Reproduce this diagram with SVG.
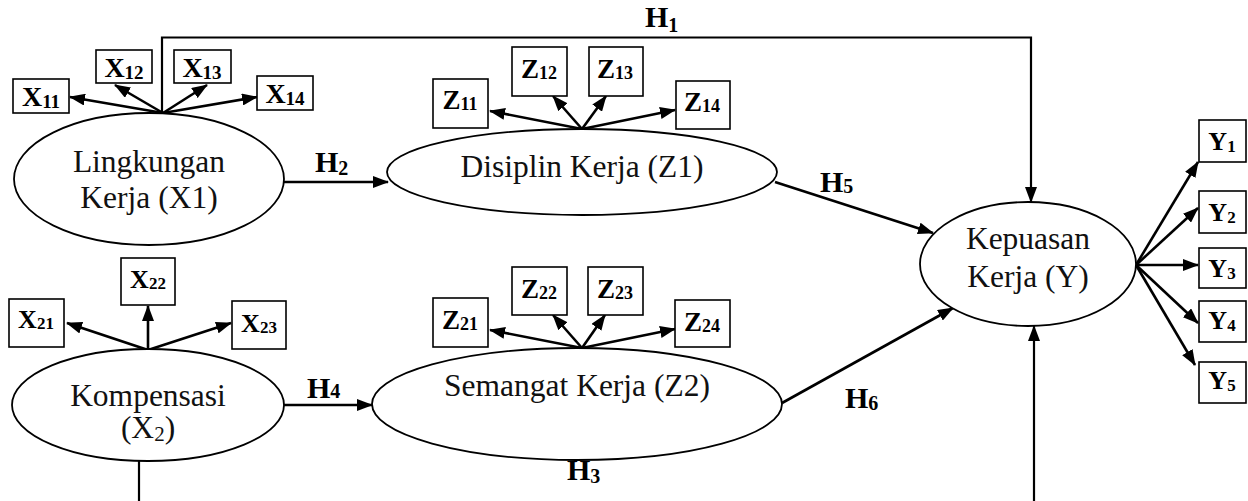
<svg xmlns="http://www.w3.org/2000/svg" width="1248" height="501" viewBox="0 0 1248 501">
<defs>
<marker id="ah" markerUnits="userSpaceOnUse" markerWidth="16" markerHeight="12" refX="15" refY="6" orient="auto">
<path d="M0,0 L16,6 L0,12 Z" fill="#000"/>
</marker>
<style>
.ell{fill:#fff;stroke:#000;stroke-width:1.8}
.box{fill:#fff;stroke:#000;stroke-width:1.6}
.lt{font-family:"Liberation Serif",serif;font-size:31.5px;text-anchor:middle;fill:#111}
.ind{font-family:"Liberation Serif",serif;font-weight:bold;text-anchor:middle;fill:#000}
.hl{font-family:"Liberation Serif",serif;font-weight:bold;font-size:30px;fill:#000}
.c{fill:none;stroke:#000;stroke-width:2.6}
.c2{fill:none;stroke:#000;stroke-width:2.2}
</style>
</defs>
<rect width="1248" height="501" fill="#fff"/>

<g id="connectors">
<path class="c2" d="M162,113 V37.5 H1031 V202" marker-end="url(#ah)"/>
<line class="c" x1="163" y1="113" x2="70" y2="97" marker-end="url(#ah)"/>
<line class="c" x1="163" y1="113" x2="115" y2="85" marker-end="url(#ah)"/>
<line class="c" x1="163" y1="113" x2="207" y2="85" marker-end="url(#ah)"/>
<line class="c" x1="163" y1="113" x2="257" y2="97" marker-end="url(#ah)"/>
<line class="c" x1="284" y1="182" x2="388" y2="182" marker-end="url(#ah)"/>
<line class="c" x1="582" y1="129" x2="490" y2="111" marker-end="url(#ah)"/>
<line class="c" x1="582" y1="129" x2="553" y2="96" marker-end="url(#ah)"/>
<line class="c" x1="582" y1="129" x2="606" y2="96" marker-end="url(#ah)"/>
<line class="c" x1="582" y1="129" x2="675" y2="110" marker-end="url(#ah)"/>
<line class="c" x1="775" y1="182" x2="933" y2="233" marker-end="url(#ah)"/>
<line class="c" x1="148" y1="350" x2="67" y2="323" marker-end="url(#ah)"/>
<line class="c" x1="148" y1="350" x2="148" y2="306" marker-end="url(#ah)"/>
<line class="c" x1="148" y1="350" x2="231" y2="323" marker-end="url(#ah)"/>
<line class="c" x1="284" y1="405" x2="372" y2="405" marker-end="url(#ah)"/>
<line class="c" x1="582" y1="348" x2="490" y2="330" marker-end="url(#ah)"/>
<line class="c" x1="582" y1="348" x2="553" y2="315" marker-end="url(#ah)"/>
<line class="c" x1="582" y1="348" x2="605" y2="315" marker-end="url(#ah)"/>
<line class="c" x1="582" y1="348" x2="675" y2="329" marker-end="url(#ah)"/>
<line class="c" x1="782" y1="403" x2="953" y2="308" marker-end="url(#ah)"/>
<line class="c2" x1="139" y1="461" x2="139" y2="501"/>
<line class="c2" x1="1034" y1="501" x2="1034" y2="326" marker-end="url(#ah)"/>
<line class="c" x1="1136" y1="265" x2="1198" y2="162" marker-end="url(#ah)"/>
<line class="c" x1="1136" y1="265" x2="1198" y2="208" marker-end="url(#ah)"/>
<line class="c" x1="1136" y1="265" x2="1198" y2="265" marker-end="url(#ah)"/>
<line class="c" x1="1136" y1="265" x2="1198" y2="323" marker-end="url(#ah)"/>
<line class="c" x1="1136" y1="265" x2="1195" y2="365" marker-end="url(#ah)"/>
<text class="hl" x="645" y="27">H<tspan font-size="20" dy="5">1</tspan></text>
<text class="hl" x="315" y="172">H<tspan font-size="20" dy="3">2</tspan></text>
<text class="hl" x="567" y="480">H<tspan font-size="20" dy="3">3</tspan></text>
<text class="hl" x="307" y="398">H<tspan font-size="20" dy="0">4</tspan></text>
<text class="hl" x="820" y="192">H<tspan font-size="20" dy="1">5</tspan></text>
<text class="hl" x="845" y="408">H<tspan font-size="20" dy="2">6</tspan></text>
</g>

<g id="X1">
<ellipse class="ell" cx="149" cy="179" rx="135" ry="66"/>
<text class="lt" x="149" y="172">Lingkungan</text>
<text class="lt" x="149" y="208">Kerja (X1)</text>
</g>
<g id="X11"><rect class="box" x="13" y="79" width="56" height="34"/><text class="ind" x="41" y="106" font-size="28">X<tspan font-size="19" dy="2">11</tspan></text></g>
<g id="X12"><rect class="box" x="96" y="50" width="56" height="33"/><text class="ind" x="124" y="77" font-size="28">X<tspan font-size="19" dy="2">12</tspan></text></g>
<g id="X13"><rect class="box" x="174" y="50" width="57" height="33"/><text class="ind" x="202" y="77" font-size="28">X<tspan font-size="19" dy="2">13</tspan></text></g>
<g id="X14"><rect class="box" x="257" y="76" width="56" height="34"/><text class="ind" x="285" y="103" font-size="28">X<tspan font-size="19" dy="2">14</tspan></text></g>

<g id="Z1">
<ellipse class="ell" cx="582" cy="172" rx="195" ry="43"/>
<text class="lt" x="582" y="177">Disiplin Kerja (Z1)</text>
</g>
<g id="Z11"><rect class="box" x="433" y="79" width="55" height="49"/><text class="ind" x="460" y="109" font-size="27">Z<tspan font-size="18" dy="1">11</tspan></text></g>
<g id="Z12"><rect class="box" x="512" y="47" width="55" height="49"/><text class="ind" x="539" y="78" font-size="27">Z<tspan font-size="18" dy="1">12</tspan></text></g>
<g id="Z13"><rect class="box" x="589" y="47" width="54" height="49"/><text class="ind" x="615" y="78" font-size="27">Z<tspan font-size="18" dy="1">13</tspan></text></g>
<g id="Z14"><rect class="box" x="676" y="81" width="54" height="48"/><text class="ind" x="702" y="111" font-size="27">Z<tspan font-size="18" dy="1">14</tspan></text></g>

<g id="Y">
<ellipse class="ell" cx="1028" cy="264" rx="108" ry="62"/>
<text class="lt" x="1028" y="249">Kepuasan</text>
<text class="lt" x="1028" y="287">Kerja (Y)</text>
</g>
<g id="Y1"><rect class="box" x="1199" y="120" width="47" height="42"/><text class="ind" x="1222" y="150" font-size="26">Y<tspan font-size="17" dy="2">1</tspan></text></g>
<g id="Y2"><rect class="box" x="1199" y="191" width="47" height="42"/><text class="ind" x="1222" y="221" font-size="26">Y<tspan font-size="17" dy="2">2</tspan></text></g>
<g id="Y3"><rect class="box" x="1199" y="248" width="47" height="40"/><text class="ind" x="1222" y="277" font-size="26">Y<tspan font-size="17" dy="2">3</tspan></text></g>
<g id="Y4"><rect class="box" x="1199" y="301" width="47" height="41"/><text class="ind" x="1222" y="329" font-size="26">Y<tspan font-size="17" dy="2">4</tspan></text></g>
<g id="Y5"><rect class="box" x="1199" y="362" width="47" height="41"/><text class="ind" x="1222" y="389" font-size="26">Y<tspan font-size="17" dy="2">5</tspan></text></g>

<g id="X2">
<ellipse class="ell" cx="148" cy="405" rx="136" ry="56"/>
<text class="lt" x="148" y="406">Kompensasi</text>
<text class="lt" x="148" y="438">(X<tspan font-size="21" dy="3">2</tspan><tspan dy="-3">)</tspan></text>
</g>
<g id="X21"><rect class="box" x="9" y="299" width="55" height="48"/><text class="ind" x="36" y="328" font-size="26">X<tspan font-size="17" dy="1">21</tspan></text></g>
<g id="X22"><rect class="box" x="121" y="258" width="54" height="47"/><text class="ind" x="148" y="288" font-size="26">X<tspan font-size="17" dy="1">22</tspan></text></g>
<g id="X23"><rect class="box" x="232" y="301" width="54" height="48"/><text class="ind" x="259" y="332" font-size="26">X<tspan font-size="17" dy="1">23</tspan></text></g>

<g id="Z2">
<ellipse class="ell" cx="577" cy="404" rx="205" ry="56"/>
<text class="lt" x="577" y="396">Semangat Kerja (Z2)</text>
</g>
<g id="Z21"><rect class="box" x="433" y="298" width="55" height="49"/><text class="ind" x="460" y="329" font-size="27">Z<tspan font-size="18" dy="1">21</tspan></text></g>
<g id="Z22"><rect class="box" x="512" y="267" width="55" height="48"/><text class="ind" x="539" y="298" font-size="27">Z<tspan font-size="18" dy="1">22</tspan></text></g>
<g id="Z23"><rect class="box" x="588" y="267" width="55" height="48"/><text class="ind" x="615" y="298" font-size="27">Z<tspan font-size="18" dy="1">23</tspan></text></g>
<g id="Z24"><rect class="box" x="675" y="300" width="55" height="47"/><text class="ind" x="702" y="331" font-size="27">Z<tspan font-size="18" dy="1">24</tspan></text></g>
</svg>
